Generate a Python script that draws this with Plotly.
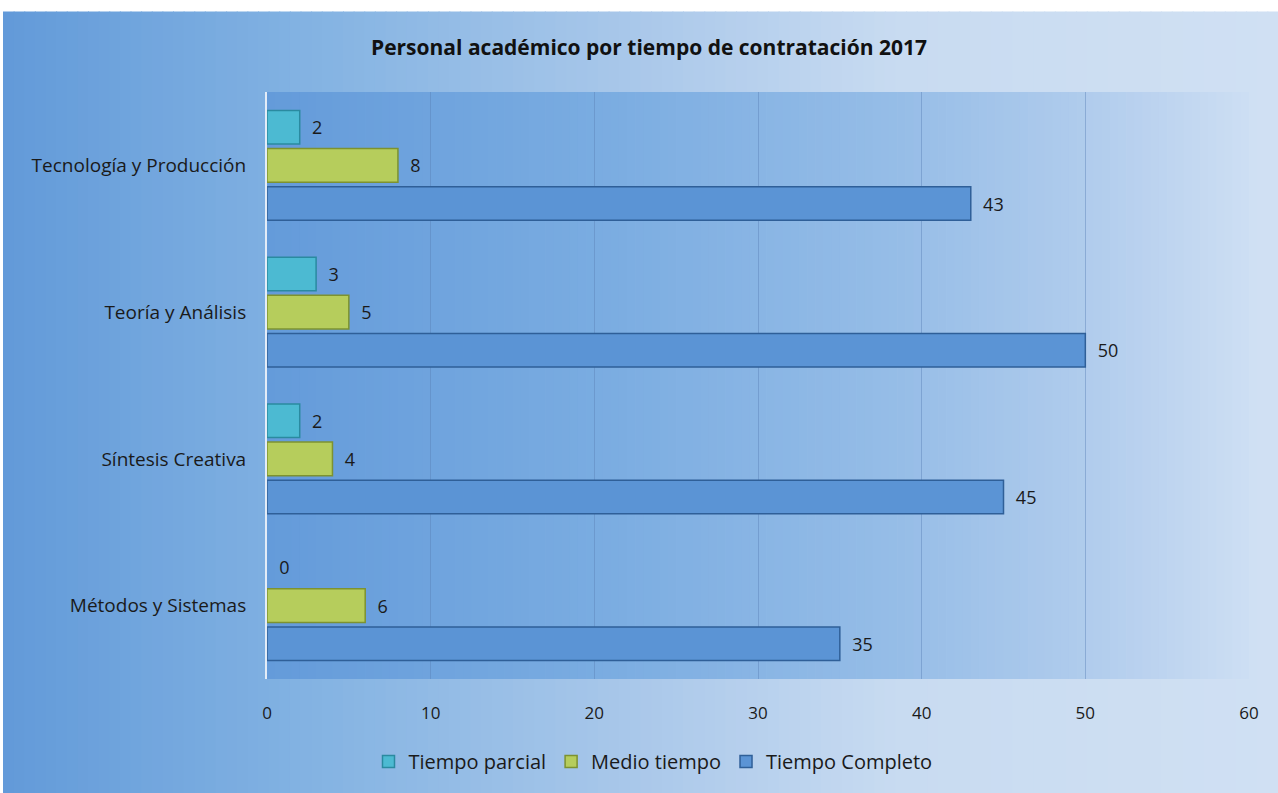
import plotly.graph_objects as go

categorias = ["Tecnología y Producción", "Teoría y Análisis", "Síntesis Creativa", "Métodos y Sistemas"]
tiempo_parcial = [2, 3, 2, 0]
medio_tiempo = [8, 5, 4, 6]
tiempo_completo = [43, 50, 45, 35]
x_ticks = [0, 10, 20, 30, 40, 50, 60]

W, H = 1278, 793
L, R, T, B = 267, 1249, 92, 682


def px_x(p):
    return (p - L) / (R - L)


def px_y(p):
    return (B - p) / (B - T)


def interp(stops, p):
    for (a, ca), (b, cb) in zip(stops, stops[1:]):
        if a <= p <= b:
            t = (p - a) / (b - a)
            c = [round(ca[i] + (cb[i] - ca[i]) * t) for i in range(3)]
            return "rgb(%d,%d,%d)" % tuple(c)
    return "rgb(%d,%d,%d)" % stops[-1][1]


# fondo degradado (franjas verticales)
outer_stops = [(3, (98, 154, 217)), (300, (130, 178, 226)), (640, (170, 200, 234)),
               (900, (200, 219, 241)), (1278, (208, 224, 243))]
inner_stops = [(267, (100, 155, 218)), (600, (122, 172, 225)), (900, (150, 189, 231)),
               (1100, (178, 205, 237)), (1249, (205, 222, 243))]

shapes = []
n = 120
for i in range(n):
    x0 = 3 + (W - 3) * i / n
    x1 = 3 + (W - 3) * (i + 1) / n + 1
    shapes.append(dict(type="rect", xref="paper", yref="paper", layer="below",
                       x0=px_x(x0), x1=px_x(x1), y0=px_y(800), y1=px_y(11),
                       fillcolor=interp(outer_stops, (x0 + x1) / 2), line=dict(width=0)))
for i in range(n):
    x0 = L + (R - L) * i / n
    x1 = L + (R - L) * (i + 1) / n + 0.6
    shapes.append(dict(type="rect", xref="paper", yref="paper", layer="below",
                       x0=px_x(x0), x1=px_x(min(x1, R)), y0=0, y1=1,
                       fillcolor=interp(inner_stops, (x0 + x1) / 2), line=dict(width=0)))

FONT = "Open Sans, sans-serif"
txtfont = dict(family=FONT, size=18, color="#1a1a1a")

fig = go.Figure()
for name, vals, col, edge in [
    ("Tiempo parcial", tiempo_parcial, "#4cbad2", "#2a8aa0"),
    ("Medio tiempo", medio_tiempo, "#b6cd5c", "#7d9230"),
    ("Tiempo Completo", tiempo_completo, "#5b94d5", "#2f5f98"),
]:
    fig.add_trace(go.Bar(
        y=categorias, x=vals, name=name, orientation="h",
        marker=dict(color=col, line=dict(color=edge, width=[1.5 if v > 0 else 0 for v in vals])),
        text=vals, texttemplate="  %{x}", textposition="outside",
        textfont=txtfont, cliponaxis=False,
    ))

fig.update_layout(
    width=W, height=H,
    margin=dict(l=L, r=W - R, t=T, b=H - B),
    paper_bgcolor="white", plot_bgcolor="rgba(0,0,0,0)",
    barmode="group", bargap=0.22, bargroupgap=0.12,
    shapes=shapes,
    title=dict(text="<b>Personal académico por tiempo de contratación 2017</b>",
               x=px_x(649), xanchor="center", xref="paper", y=1 - 48 / H, yanchor="middle",
               font=dict(family=FONT, size=21, color="#111111")),
    font=dict(family=FONT, size=18, color="#1a1a1a"),
    legend=dict(orientation="h", x=px_x(653), xanchor="center", y=px_y(765), yanchor="middle",
                font=dict(size=20), bgcolor="rgba(0,0,0,0)", itemwidth=30),
    xaxis=dict(range=[0, 60], tickvals=x_ticks, showgrid=True, gridcolor="rgba(90,130,185,0.45)",
               gridwidth=1, zeroline=False, showline=False, ticks="", ticklabelstandoff=22,
               tickfont=dict(size=17)),
    yaxis=dict(autorange="reversed", showline=True, linecolor="#e3ecf7", linewidth=2, ticks="",
               ticklabelstandoff=15, showgrid=False, tickfont=dict(size=19)),
)

fig.write_html("out.html", config={"displayModeBar": False},
               post_script="document.body.style.margin='0';")
